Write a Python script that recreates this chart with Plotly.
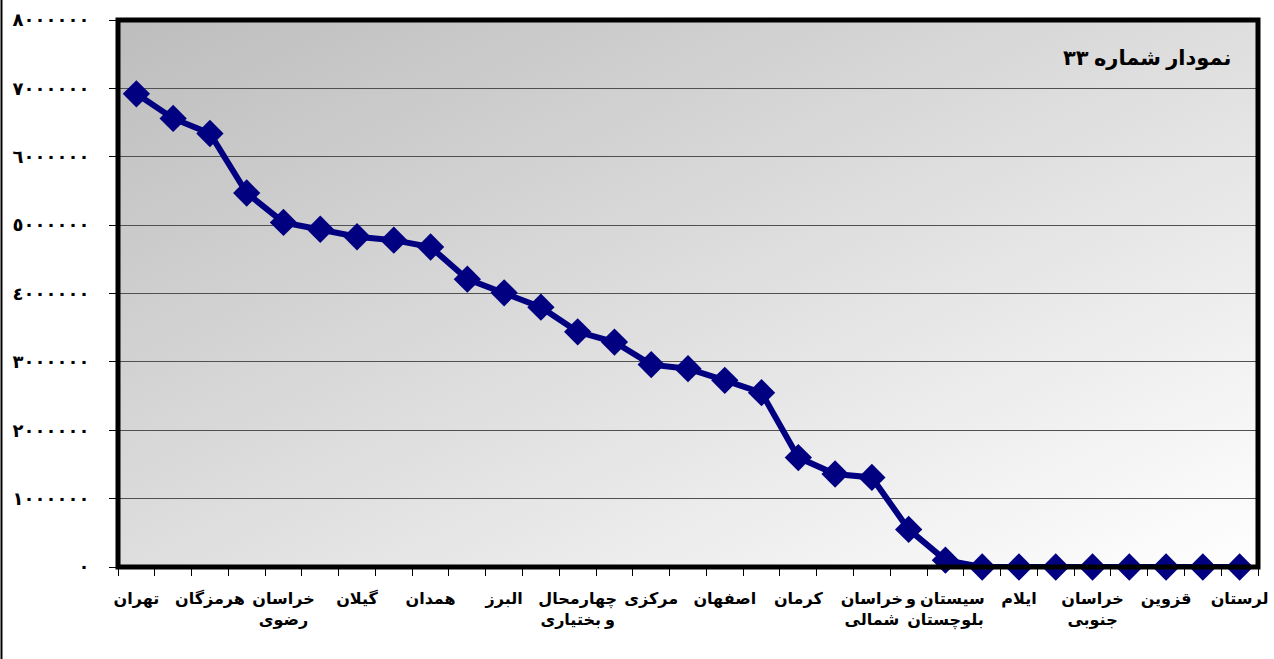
import base64
import plotly.graph_objects as go

# استان‌ها به ترتیب نمودار (فقط یکی در میان برچسب دارد)
provinces = [
    'تهران', 'مازندران', 'هرمزگان', 'بوشهر', 'خراسان<br>رضوی', 'فارس',
    'گیلان', 'یزد', 'همدان', 'قم', 'البرز', 'سمنان', 'چهارمحال<br>و بختیاری',
    'آذربایجان شرقی', 'مرکزی', 'زنجان', 'اصفهان', 'گلستان', 'کرمان',
    'اردبیل', 'خراسان<br>شمالی', 'کرمانشاه', 'سیستان و<br>بلوچستان',
    'آذربایجان غربی', 'ایلام', 'کردستان', 'خراسان<br>جنوبی', 'خوزستان',
    'قزوین', 'کهگیلویه و بویراحمد', 'لرستان',
]
values = [
    6920000, 6560000, 6340000, 5470000, 5040000, 4940000, 4830000, 4780000,
    4680000, 4210000, 4010000, 3800000, 3440000, 3290000, 2960000, 2900000,
    2730000, 2550000, 1600000, 1360000, 1310000, 550000, 100000,
    0, 0, 0, 0, 0, 0, 0, 0,
]
y_ticks = [0, 1000000, 2000000, 3000000, 4000000, 5000000, 6000000, 7000000, 8000000]
y_tick_text = ['٠', '١٠٠٠٠٠٠', '٢٠٠٠٠٠٠', '٣٠٠٠٠٠٠', '٤٠٠٠٠٠٠',
               '٥٠٠٠٠٠٠', '٦٠٠٠٠٠٠', '٧٠٠٠٠٠٠', '٨٠٠٠٠٠٠']
chart_title = 'نمودار شماره ۳۳'

font_family = 'Times New Roman, DejaVu Sans, sans-serif'

# پس‌زمینه گرادیانی خاکستری
svg = (
    '<svg xmlns="http://www.w3.org/2000/svg" width="1140" height="547" '
    'preserveAspectRatio="none" viewBox="0 0 1140 547">'
    '<defs><linearGradient id="g" x1="0" y1="0" x2="1" y2="1">'
    '<stop offset="0" stop-color="#bdbdbd"/>'
    '<stop offset="1" stop-color="#ffffff"/>'
    '</linearGradient></defs>'
    '<rect width="1140" height="547" fill="url(#g)"/></svg>'
)
bg_src = 'data:image/svg+xml;base64,' + base64.b64encode(svg.encode('utf-8')).decode('ascii')

tick_text = [p if i % 2 == 0 else '' for i, p in enumerate(provinces)]

fig = go.Figure()
fig.add_trace(go.Scatter(
    x=provinces,
    y=values,
    mode='lines+markers',
    line=dict(color='#000080', width=6),
    marker=dict(symbol='diamond', size=21, color='#000080'),
    showlegend=False,
    cliponaxis=False,
))

fig.update_layout(
    width=1274,
    height=659,
    margin=dict(l=118, r=16, t=20, b=92),
    paper_bgcolor='white',
    plot_bgcolor='rgba(0,0,0,0)',
    font=dict(family=font_family, size=16, color='black'),
    images=[dict(
        source=bg_src, xref='paper', yref='paper', x=0, y=1,
        sizex=1, sizey=1, sizing='stretch', layer='below',
        xanchor='left', yanchor='top',
    )],
    shapes=[
        dict(type='rect', xref='paper', yref='paper', x0=0, x1=1, y0=0, y1=1,
             line=dict(color='black', width=5), layer='above'),
        dict(type='line', xref='paper', yref='paper', x0=-0.1022, x1=-0.1022,
             y0=-0.2, y1=1.1, line=dict(color='black', width=2)),
    ],
    annotations=[dict(
        text='<b>' + chart_title + '</b>', xref='paper', yref='paper',
        x=0.978, y=0.93, xanchor='right', yanchor='middle', showarrow=False,
        font=dict(size=21, family=font_family, color='black'),
    )],
)

fig.update_xaxes(
    type='category',
    range=[-0.5, len(provinces) - 0.5],
    tickmode='array',
    tickvals=provinces,
    ticktext=['<b>' + t + '</b>' if t else '' for t in tick_text],
    tickson='boundaries',
    ticks='outside',
    ticklen=8,
    tickcolor='black',
    tickangle=0,
    ticklabelstandoff=20,
    showgrid=False,
    zeroline=False,
    showline=False,
    automargin=False,
    tickfont=dict(size=16, family=font_family, color='black'),
)
fig.update_yaxes(
    range=[0, 8000000],
    tickmode='array',
    tickvals=y_ticks,
    ticktext=['<b>' + t + '</b>' for t in y_tick_text],
    ticks='outside',
    ticklen=8,
    tickcolor='black',
    ticklabelstandoff=16,
    showgrid=True,
    gridcolor='#505050',
    gridwidth=1,
    zeroline=False,
    showline=False,
    automargin=False,
    tickfont=dict(size=18, family=font_family, color='black'),
)

# حذف حاشیه پیش‌فرض صفحه تا نمودار دقیقاً در پنجره بنشیند
fig.write_html(
    'out.html',
    config={'displayModeBar': False},
    post_script="document.body.style.margin='0';",
)
